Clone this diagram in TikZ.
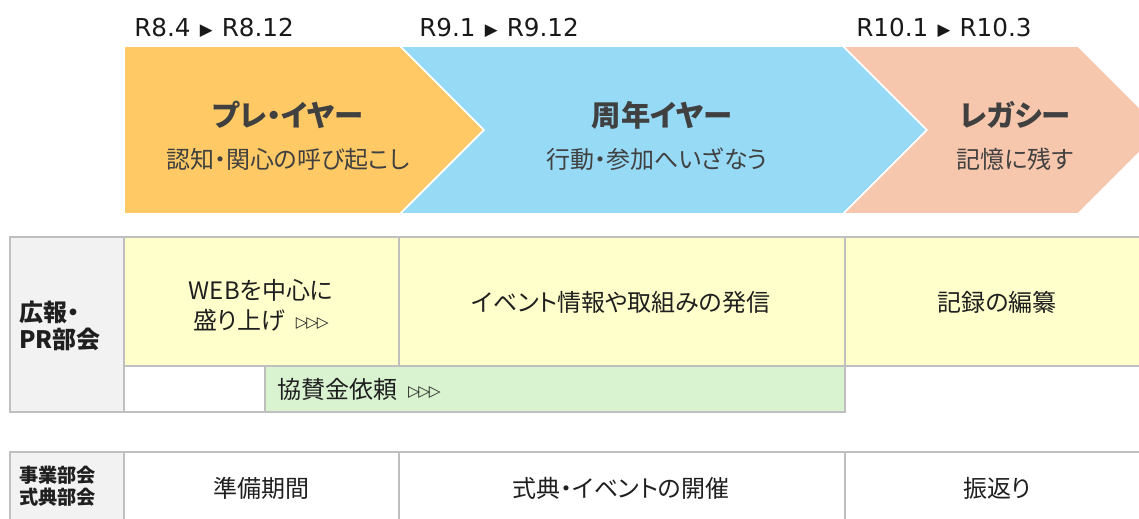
\documentclass[tikz,border=0pt]{standalone}
\usepackage{fontspec}
\setmainfont[RawFeature=+palt]{Noto Sans CJK JP}
\newfontfamily\symfont{DejaVu Sans}
\definecolor{preyr}{RGB}{255,202,101}
\definecolor{annyr}{RGB}{151,218,246}
\definecolor{legyr}{RGB}{246,198,173}
\definecolor{cellyl}{RGB}{255,255,204}
\definecolor{cellgr}{RGB}{217,242,208}
\definecolor{headgy}{RGB}{242,242,242}
\definecolor{rulegy}{RGB}{191,191,191}
\definecolor{txtdk}{RGB}{64,64,64}
\newcommand{\tri}{\kern1pt{\fontsize{12.5}{12}\selectfont\raisebox{0.2ex}{▶}}\kern1pt}
\newcommand{\tris}{{\symfont\fontsize{11.5}{12}\selectfont\raisebox{0.2ex}{▷\kern-1pt▷\kern-1pt▷}}}
\tikzset{
  datetxt/.style={inner sep=0.75pt,font=\symfont\fontsize{18.5}{20}\selectfont,text=black!90},
  titletxt/.style={inner sep=0.75pt,font=\fontsize{22}{26}\selectfont\bfseries,text=txtdk},
  subtxt/.style={inner sep=0.75pt,font=\fontsize{18}{22}\selectfont,text=txtdk},
  celltxt/.style={inner sep=0.75pt,font=\fontsize{18}{22.5}\selectfont,text=black!88,align=center},
  headtxt/.style={inner sep=0.75pt,text=black!88,align=left,anchor=west},
  rule/.style={draw=rulegy,line width=1.1pt}
}
\begin{document}
\begin{tikzpicture}[x=0.75pt,y=0.75pt,yscale=-1,xscale=1]
\path[use as bounding box] (0,0) rectangle (1139,518);

%Shape: Polygon [pre year]
\draw [white,line width=1.2pt,fill=preyr] (124,46) -- (400,46) -- (484,130) -- (400,214) -- (124,214) -- cycle ;
%Shape: Polygon [anniversary year]
\draw [white,line width=1.2pt,fill=annyr] (400,46) -- (843,46) -- (927,130) -- (843,214) -- (400,214) -- (484,130) -- cycle ;
%Shape: Polygon [legacy]
\draw [white,line width=1.2pt,fill=legyr] (843,46) -- (1078,46) -- (1162,130) -- (1078,214) -- (843,214) -- (927,130) -- cycle ;

% Text Node
\draw (133,28) node [anchor=west][datetxt] (datePre) {R8.4 \tri{} R8.12};
% Text Node
\draw (418,28) node [anchor=west][datetxt] (dateAnn) {R9.1 \tri{} R9.12};
% Text Node
\draw (855,28) node [anchor=west][datetxt] (dateLeg) {R10.1 \tri{} R10.3};
% Text Node
\draw (288,115) node [titletxt] (titlePre) {プレ・イヤー};
% Text Node
\draw (288,159) node [subtxt] (subPre) {認知・関心の呼び起こし};
% Text Node
\draw (662,115) node [titletxt] (titleAnn) {周年イヤー};
% Text Node
\draw (657,159) node [subtxt] (subAnn) {行動・参加へいざなう};
% Text Node
\draw (1015,115) node [titletxt] (titleLeg) {レガシー};
% Text Node
\draw (1015,159) node [subtxt] (subLeg) {記憶に残す};

%Shape: Rectangle [PR rows]
\draw [rule,fill=headgy] (10,237) rectangle (124,412) ;
\draw [rule,fill=cellyl] (124,237) rectangle (399,366) ;
\draw [rule,fill=cellyl] (399,237) rectangle (845,366) ;
\draw [rule,fill=cellyl] (845,237) rectangle (1145,366) ;
\draw [rule] (124,366) rectangle (265,412) ;
\draw [rule,fill=cellgr] (265,366) rectangle (845,412) ;

%Shape: Rectangle [event rows]
\draw [rule,fill=headgy] (10,452) rectangle (124,525) ;
\draw [rule] (124,452) rectangle (399,525) ;
\draw [rule] (399,452) rectangle (845,525) ;
\draw [rule] (845,452) rectangle (1145,525) ;

% Text Node
\draw (18,326) node [headtxt,font=\fontsize{18}{20.5}\selectfont\bfseries] (headPR) {広報・\\PR部会};
% Text Node
\draw (18,486) node [headtxt,font=\fontsize{14.4}{16.5}\selectfont\bfseries] (headEv) {事業部会\\式典部会};
% Text Node
\draw (261,305) node [celltxt] (cellWeb) {WEBを中心に\\盛り上げ\ \ \tris};
% Text Node
\draw (621,302) node [celltxt] (cellInfo) {イベント情報や取組みの発信};
% Text Node
\draw (997,302) node [celltxt] (cellRec) {記録の編纂};
% Text Node
\draw (276,389) node [celltxt,anchor=west] (cellSpon) {協賛金依頼\ \ \tris};
% Text Node
\draw (261,488) node [celltxt] (cellPrep) {準備期間};
% Text Node
\draw (621,488) node [celltxt] (cellHold) {式典・イベントの開催};
% Text Node
\draw (997,488) node [celltxt] (cellBack) {振返り};

\end{tikzpicture}
\end{document}
